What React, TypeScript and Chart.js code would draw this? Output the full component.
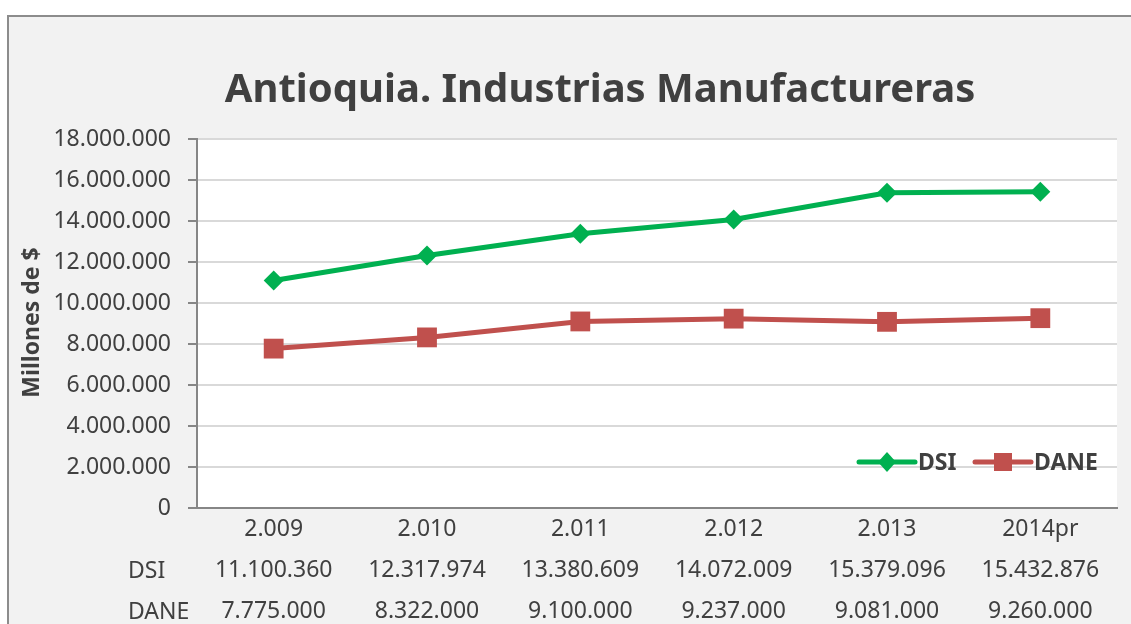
import React, { useEffect, useRef } from "react";
import { Chart, registerables } from "chart.js";

Chart.register(...registerables);

const TITLE = "Antioquia. Industrias Manufactureras";
const Y_TITLE = "Millones de $";
const CATEGORIES = ["2.009", "2.010", "2.011", "2.012", "2.013", "2014pr"];
const DSI_VALUES = [11100360, 12317974, 13380609, 14072009, 15379096, 15432876];
const DANE_VALUES = [7775000, 8322000, 9100000, 9237000, 9081000, 9260000];
const SERIES_NAMES = ["DSI", "DANE"];
const Y_MIN = 0;
const Y_MAX = 18000000;
const Y_STEP = 2000000;

const GREEN = "#00B050";
const RED = "#C0504D";
const TEXT = "#404040";
const FONT = "'Noto Sans', 'Open Sans', sans-serif";

const fmt = (v: number) =>
  String(Math.round(v)).replace(/\B(?=(\d{3})+(?!\d))/g, ".");

export default function App() {
  const ref = useRef<HTMLCanvasElement | null>(null);

  useEffect(() => {
    if (!ref.current) return;

    const decor = {
      id: "decor",
      beforeDraw(chart: any) {
        const { ctx, chartArea } = chart;
        ctx.save();
        ctx.fillStyle = "#ffffff";
        ctx.fillRect(0, 0, chart.width, chart.height);
        ctx.fillStyle = "#f2f2f2";
        ctx.fillRect(7, 15, chart.width, chart.height);
        ctx.strokeStyle = "#8c8c8c";
        ctx.lineWidth = 2;
        ctx.beginPath();
        ctx.moveTo(8, chart.height + 5);
        ctx.lineTo(8, 16);
        ctx.lineTo(chart.width + 5, 16);
        ctx.stroke();
        ctx.fillStyle = "#ffffff";
        ctx.fillRect(
          chartArea.left,
          chartArea.top,
          chartArea.right - chartArea.left,
          chartArea.bottom - chartArea.top
        );
        ctx.restore();
      },
      afterDraw(chart: any) {
        const { ctx, chartArea } = chart;
        ctx.save();
        // Title
        ctx.fillStyle = TEXT;
        ctx.font = `bold 40px ${FONT}`;
        ctx.textAlign = "center";
        ctx.textBaseline = "alphabetic";
        ctx.fillText(TITLE, 600, 102);

        // Y axis title
        ctx.save();
        ctx.translate(32, (chartArea.top + chartArea.bottom) / 2 - 1);
        ctx.rotate(-Math.PI / 2);
        ctx.font = `bold 23px ${FONT}`;
        ctx.textAlign = "center";
        ctx.textBaseline = "middle";
        ctx.fillText(Y_TITLE, 0, 0);
        ctx.restore();

        // Data table row labels
        ctx.font = `23px ${FONT}`;
        ctx.textAlign = "left";
        ctx.textBaseline = "middle";
        ctx.fillStyle = TEXT;
        ctx.fillText(SERIES_NAMES[0], 128, 571);
        ctx.fillText(SERIES_NAMES[1], 128, 612);

        // Legend
        const ly = 462;
        const drawItem = (
          x: number,
          color: string,
          shape: string,
          label: string
        ) => {
          ctx.strokeStyle = color;
          ctx.lineWidth = 5;
          ctx.lineCap = "round";
          ctx.beginPath();
          ctx.moveTo(x, ly);
          ctx.lineTo(x + 56, ly);
          ctx.stroke();
          ctx.fillStyle = color;
          const cx = x + 28;
          if (shape === "diamond") {
            ctx.beginPath();
            ctx.moveTo(cx - 9, ly);
            ctx.lineTo(cx, ly - 10);
            ctx.lineTo(cx + 9, ly);
            ctx.lineTo(cx, ly + 10);
            ctx.closePath();
            ctx.fill();
          } else {
            ctx.fillRect(cx - 9, ly - 9, 18, 18);
          }
          ctx.fillStyle = TEXT;
          ctx.font = `bold 23px ${FONT}`;
          ctx.textAlign = "left";
          ctx.textBaseline = "middle";
          ctx.fillText(label, x + 59, ly + 1);
        };
        drawItem(859, GREEN, "diamond", SERIES_NAMES[0]);
        drawItem(975, RED, "square", SERIES_NAMES[1]);
        ctx.restore();
      },
    };

    const chart = new Chart(ref.current, {
      type: "line",
      data: {
        labels: CATEGORIES.map((c, i) => [c, fmt(DSI_VALUES[i]), fmt(DANE_VALUES[i])]),
        datasets: [
          {
            label: SERIES_NAMES[0],
            data: DSI_VALUES,
            borderColor: GREEN,
            backgroundColor: GREEN,
            borderWidth: 5,
            pointStyle: "rectRot",
            pointRadius: 10,
            pointBorderWidth: 0,
            tension: 0,
          },
          {
            label: SERIES_NAMES[1],
            data: DANE_VALUES,
            borderColor: RED,
            backgroundColor: RED,
            borderWidth: 5,
            pointStyle: "rect",
            pointRadius: 14,
            pointBorderWidth: 0,
            tension: 0,
          },
        ],
      },
      options: {
        animation: false,
        responsive: false,
        devicePixelRatio: 1,
        layout: { padding: { left: 0, top: 139, right: 14, bottom: 0 } },
        plugins: {
          legend: { display: false },
          title: { display: false },
          tooltip: { enabled: false },
        },
        scales: {
          x: {
            type: "category",
            offset: true,
            grid: { display: false, drawTicks: false },
            border: { display: true, color: "#868686", width: 2 },
            ticks: {
              color: TEXT,
              font: { family: FONT, size: 23, lineHeight: 41 / 23 },
              padding: 1,
              maxRotation: 0,
              autoSkip: false,
            },
            afterFit: (scale: any) => {
              scale.height = 116;
            },
          },
          y: {
            min: Y_MIN,
            max: Y_MAX,
            grid: {
              color: "#d9d9d9",
              lineWidth: 2,
              drawTicks: true,
              tickLength: 9,
              tickColor: "#868686",
              tickWidth: 2,
            },
            border: { display: true, color: "#868686", width: 2 },
            ticks: {
              stepSize: Y_STEP,
              color: TEXT,
              font: { family: FONT, size: 23 },
              padding: 17,
              callback: (v: any) => fmt(Number(v)),
            },
            afterFit: (scale: any) => {
              scale.width = 197;
            },
          },
        },
      },
      plugins: [decor],
    } as any);

    return () => chart.destroy();
  }, []);

  return (
    <div
      style={{
        position: "fixed",
        left: 0,
        top: 0,
        width: 1131,
        height: 624,
        overflow: "hidden",
        background: "#ffffff",
      }}
    >
      <canvas ref={ref} width={1131} height={624} style={{ display: "block" }} />
    </div>
  );
}
